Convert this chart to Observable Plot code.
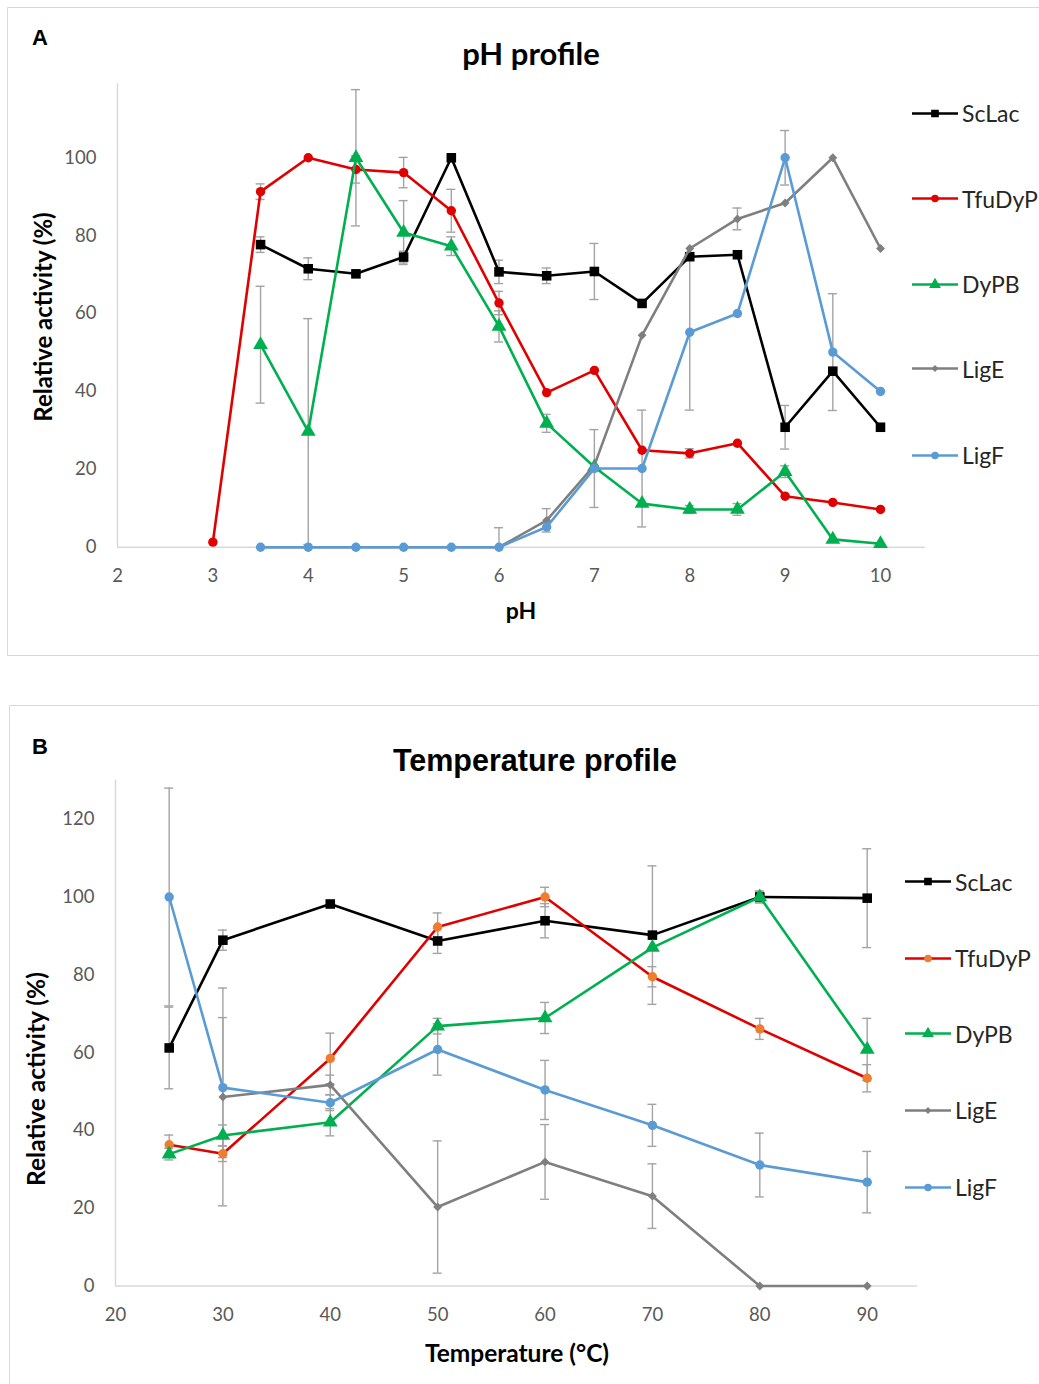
<!DOCTYPE html>
<html><head><meta charset="utf-8">
<script src="https://cdn.jsdelivr.net/npm/d3@7"></script>
<script src="https://cdn.jsdelivr.net/npm/@observablehq/plot@0.6"></script>
<style>
html,body{margin:0;padding:0;background:#fff;}
body{width:1039px;height:1384px;position:relative;overflow:hidden;font-family:Lato,'Open Sans',sans-serif;}
.frame{position:absolute;border:1.5px solid #d9d9d9;box-sizing:border-box;}
.ctr{position:absolute;transform:translate(-50%,-50%);white-space:nowrap;line-height:1;}
.panelLetter{position:absolute;font-family:'Liberation Sans',Arial,sans-serif;font-weight:bold;font-size:22px;line-height:1;color:#000;}
.leg{position:absolute;display:flex;align-items:center;transform:translateY(-50%);font-size:23px;color:#262626;line-height:1;white-space:nowrap;}
.leg svg{display:block;margin-right:4px;}
</style></head><body>
<div class="frame" style="left:7px;top:7px;width:1060px;height:649px;"></div>
<div class="frame" style="left:9px;top:705px;width:1060px;height:700px;"></div>
<div class="panelLetter" style="left:32px;top:27px;">A</div>
<div class="panelLetter" style="left:32px;top:736px;">B</div>
<div class="ctr" style="left:531px;top:53px;font-weight:bold;font-size:31px;">pH profile</div>
<div class="ctr" style="left:535px;top:760px;font-weight:bold;font-size:30.5px;font-family:'Liberation Sans',Arial,sans-serif;">Temperature profile</div>
<div class="ctr" style="left:43px;top:317px;font-weight:bold;font-size:24px;transform:translate(-50%,-50%) rotate(-90deg);">Relative activity (%)</div>
<div class="ctr" style="left:36px;top:1079px;font-weight:bold;font-size:24.5px;transform:translate(-50%,-50%) rotate(-90deg);">Relative activity (%)</div>
<div class="ctr" style="left:521px;top:610px;font-weight:bold;font-size:23px;">pH</div>
<div class="ctr" style="left:517px;top:1353px;font-weight:bold;font-size:24.5px;">Temperature (°C)</div>
<script>
// ---------- data ----------
const seriesNames = ["ScLac", "TfuDyP", "DyPB", "LigE", "LigF"];

// Panel A: pH profile
const pH = [3, 3.5, 4, 4.5, 5, 5.5, 6, 6.5, 7, 7.5, 8, 8.5, 9, 9.5, 10];
const phScLac  = [null, 77.7, 71.5, 70.2, 74.5, 100, 70.7, 69.7, 70.8, 62.6, 74.6, 75.1, 30.8, 45.2, 30.8];
const phTfuDyP = [1.3, 91.3, 100, 97, 96.2, 86.4, 62.7, 39.7, 45.4, 24.9, 24.1, 26.7, 13.1, 11.5, 9.7];
const phDyPB   = [null, 52, 29.7, 100, 80.8, 77.3, 56.7, 31.8, 20.6, 11.2, 9.7, 9.7, 19.4, 2, 0.9];
const phLigE   = [null, 0, 0, 0, 0, 0, 0, 6.9, 21, 54.4, 76.7, 84.3, 88.4, 100, 76.7];
const phLigF   = [null, 0, 0, 0, 0, 0, 0, 5.2, 20.2, 20.2, 55.2, 60, 100, 50.1, 40];
const phScLacErr  = [0, 2, 2.8, 0.5, 1.5, 0, 3, 2, 7.2, 0, 0, 0, 5.6, 0, 0];
const phTfuDyPErr = [0, 2, 0, 3.5, 3.9, 5.5, 3, 0, 0, 0, 1.2, 0, 0, 0, 0];
const phDyPBErr   = [0, 15, 29, 17.5, 8.2, 2.4, 4, 2.3, 0, 0, 1, 1.5, 1.5, 0, 0];
const phLigEErr   = [0, 0, 0, 0, 0, 0, 5, 3, 0, 0, 0, 2.8, 0, 0, 0];
const phLigFErr   = [0, 0, 0, 0, 0, 0, 0, 0, 10, 15, 20, 0, 7, 15, 0];
const phXTicks = [2, 3, 4, 5, 6, 7, 8, 9, 10];
const phYTicks = [0, 20, 40, 60, 80, 100];

// Panel B: temperature profile
const temperature = [25, 30, 40, 50, 60, 70, 80, 90];
const tScLac  = [61.2, 88.9, 98.2, 88.7, 93.9, 90.2, 100, 99.7];
const tTfuDyP = [36.3, 34, 58.5, 92.3, 100, 79.5, 66.1, 53.4];
const tDyPB   = [33.9, 38.7, 42.1, 66.8, 68.9, 87, 100, 60.8];
const tLigE   = [null, 48.6, 51.7, 20.3, 31.9, 23.1, 0, 0];
const tLigF   = [100, 51, 47.1, 60.8, 50.4, 41.3, 31.1, 26.7];
const tScLacErr  = [10.5, 2.6, 0, 3.2, 4.4, 17.8, 1.5, 12.7];
const tTfuDyPErr = [2.5, 2, 6.5, 3.6, 2.5, 2.6, 2.7, 3.5];
const tDyPBErr   = [1.5, 2.7, 3.5, 2, 4, 0, 1.5, 8];
const tLigEErr   = [0, 28, 2.5, 17, 9.6, 8.3, 0, 0];
const tLigFErr   = [28, 18, 2, 6.6, 7.6, 5.4, 8.2, 7.9];
const tXTicks = [20, 30, 40, 50, 60, 70, 80, 90];
const tYTicks = [0, 20, 40, 60, 80, 100, 120];

// ---------- style ----------
const lineColors = ["#000000", "#e00000", "#00b050", "#7f7f7f", "#5b9bd5"];
const markerA = ["#000000", "#e00000", "#00b050", "#7f7f7f", "#5b9bd5"];
const markerB = ["#000000", "#ed7d31", "#00b050", "#7f7f7f", "#5b9bd5"];
const symbols = ["square", "circle", "triangle", "diamond2", "circle"];
const radii = [5.4, 4.7, 5.5, 4, 4.7];
const errColor = "#a3a3a3";
const axisColor = "#d9d9d9";

function makeRows(xs, ys, errs, name) {
  return xs.map((x, i) => ({x, y: ys[i], err: errs[i], s: name})).filter(d => d.y != null);
}

function drawPanel(cfg) {
  const {xs, ys, errs, top, height, mL, mR, mT, mB, xDomain, yDomain, yAxisTop, xAxisEnd, xTicks, yTicks, markers} = cfg;
  const W = 1039;
  const pxPerX = (W - mL - mR) / (xDomain[1] - xDomain[0]);
  const cap = 4.5 / pxPerX;
  const all = ys.map((y, k) => makeRows(xs, y, errs[k], seriesNames[k]));
  const errRows = all.flat().filter(d => d.err > 0);
  const marks = [
    Plot.ruleY([0], {x1: xDomain[0], x2: xAxisEnd, stroke: axisColor, strokeWidth: 1.5}),
    Plot.ruleX([xDomain[0]], {y1: 0, y2: yAxisTop, stroke: axisColor, strokeWidth: 1.5}),
    Plot.axisX({ticks: xTicks, tickSize: 0, tickPadding: 22, label: null}),
    Plot.axisY({ticks: yTicks, tickSize: 0, tickPadding: 21, label: null}),
    Plot.ruleX(errRows, {x: "x", y1: d => Math.max(0, d.y - d.err), y2: d => d.y + d.err, stroke: errColor, strokeWidth: 1.4}),
    Plot.ruleY(errRows, {y: d => d.y + d.err, x1: d => d.x - cap, x2: d => d.x + cap, stroke: errColor, strokeWidth: 1.4}),
    Plot.ruleY(errRows.filter(d => d.y - d.err >= 0), {y: d => d.y - d.err, x1: d => d.x - cap, x2: d => d.x + cap, stroke: errColor, strokeWidth: 1.4})
  ];
  all.forEach((r, k) => {
    marks.push(Plot.line(r, {x: "x", y: "y", stroke: lineColors[k], strokeWidth: 2.6, strokeLinejoin: "round"}));
    marks.push(Plot.dot(r, {x: "x", y: "y", symbol: () => symbols[k], r: radii[k], fill: markers[k], stroke: "none"}));
  });
  const svg = Plot.plot({
    width: W, height, marginLeft: mL, marginRight: mR, marginTop: mT, marginBottom: mB,
    x: {domain: xDomain},
    y: {domain: yDomain},
    style: {background: "transparent", fontFamily: "Lato, 'Open Sans', sans-serif", fontSize: "18.5px", color: "#595959", overflow: "visible"},
    marks
  });
  svg.style.position = "absolute";
  svg.style.left = "0px";
  svg.style.top = top + "px";
  document.body.appendChild(svg);
}

drawPanel({
  xs: pH,
  ys: [phScLac, phTfuDyP, phDyPB, phLigE, phLigF],
  errs: [phScLacErr, phTfuDyPErr, phDyPBErr, phLigEErr, phLigFErr],
  top: 0, height: 600, mL: 117, mR: 159, mT: 79.4, mB: 53.3,
  xDomain: [2, 10], yDomain: [0, 120], yAxisTop: 119, xAxisEnd: 10.47,
  xTicks: phXTicks, yTicks: phYTicks, markers: markerA
});
drawPanel({
  xs: temperature,
  ys: [tScLac, tTfuDyP, tDyPB, tLigE, tLigF],
  errs: [tScLacErr, tTfuDyPErr, tDyPBErr, tLigEErr, tLigFErr],
  top: 700, height: 684, mL: 115, mR: 172.3, mT: 79.8, mB: 98.5,
  xDomain: [20, 90], yDomain: [0, 130], yAxisTop: 130, xAxisEnd: 94.7,
  xTicks: tXTicks, yTicks: tYTicks, markers: markerB
});

// ---------- legends ----------
function legend(x, ys, markers) {
  seriesNames.forEach((name, k) => {
    const div = document.createElement("div");
    div.className = "leg";
    div.style.left = x + "px";
    div.style.top = ys[k] + "px";
    const sym = d3.symbol().type({square: d3.symbolSquare, circle: d3.symbolCircle, triangle: d3.symbolTriangle, diamond2: d3.symbolDiamond2}[symbols[k]]).size(Math.PI * (radii[k] * 0.8) ** 2)();
    div.innerHTML = `<svg width="46" height="14" viewBox="0 0 46 14"><line x1="0" y1="7" x2="46" y2="7" stroke="${lineColors[k]}" stroke-width="2.6"/><path transform="translate(23,7)" d="${sym}" fill="${markers[k]}"/></svg><span>${name}</span>`;
    document.body.appendChild(div);
  });
}
legend(912, [113, 198.5, 284, 368.5, 455], markerA);
legend(905, [881.5, 958, 1033.5, 1110, 1187], markerB);
</script>
</body></html>
